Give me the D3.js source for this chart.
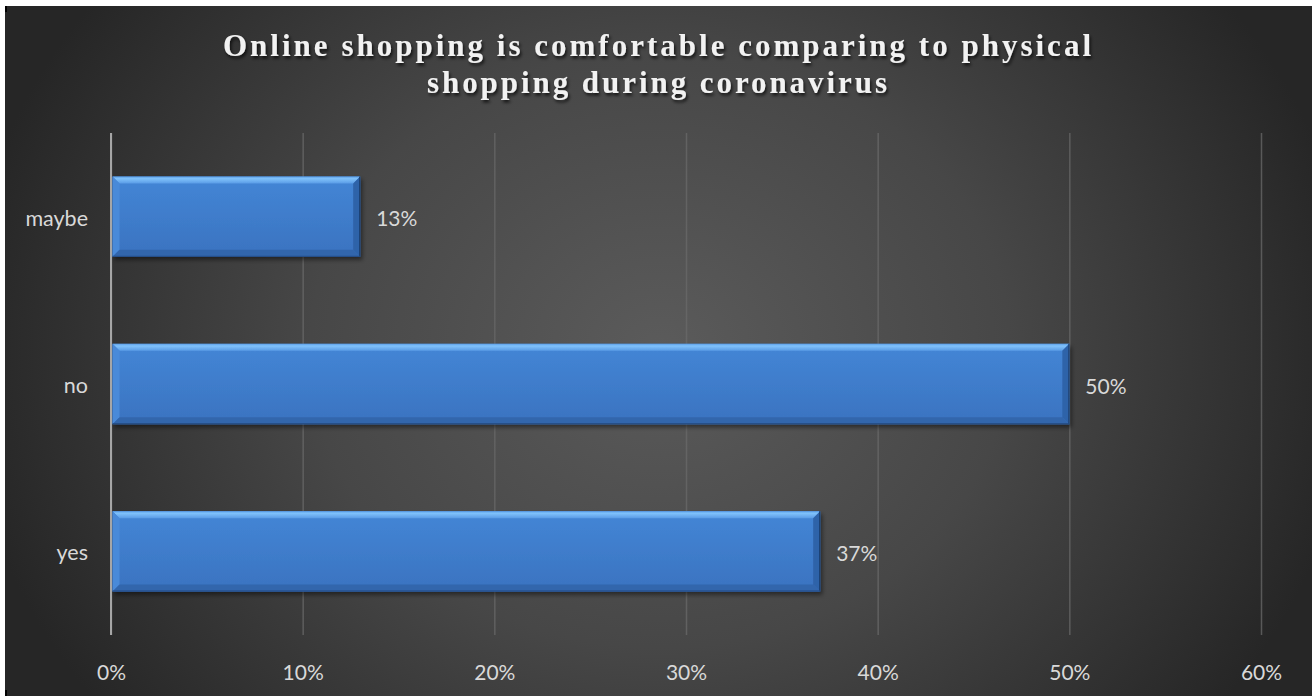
<!DOCTYPE html>
<html>
<head>
<meta charset="utf-8">
<script src="https://cdn.jsdelivr.net/npm/d3@7"></script>
<style>
  html, body { margin: 0; padding: 0; background: #ffffff; }
  svg { display: block; }
</style>
</head>
<body>
<svg id="chart" width="1312" height="696"></svg>
<script>
// Survey answers and their shares (percent)
const categories = ["maybe", "no", "yes"];
const values = [13, 50, 37];
const xTicks = [0, 10, 20, 30, 40, 50, 60];
const titleLines = [
  "Online shopping is comfortable comparing to physical",
  "shopping during coronavirus"
];

const W = 1312, H = 696;
const frame = { left: 5, top: 6 };
const plot = { left: 111, right: 1261, top: 133, bottom: 635 };

const svg = d3.select("#chart");
const defs = svg.append("defs");

// dark radial backdrop
const bg = defs.append("radialGradient").attr("id", "bgGrad")
  .attr("gradientUnits", "userSpaceOnUse")
  .attr("cx", 660).attr("cy", 350).attr("r", 700)
  .attr("gradientTransform", "translate(660,350) scale(1,0.85) translate(-660,-350)");
bg.append("stop").attr("offset", 0).attr("stop-color", "#5b5b5b");
bg.append("stop").attr("offset", 0.5).attr("stop-color", "#474747");
bg.append("stop").attr("offset", 1).attr("stop-color", "#262626");

// bar face gradients
const face = defs.append("linearGradient").attr("id", "faceGrad")
  .attr("x1", 0).attr("y1", 0).attr("x2", 0).attr("y2", 1);
face.append("stop").attr("offset", 0).attr("stop-color", "#4486d6");
face.append("stop").attr("offset", 1).attr("stop-color", "#3a73c0");

const topB = defs.append("linearGradient").attr("id", "topGrad")
  .attr("x1", 0).attr("y1", 0).attr("x2", 0).attr("y2", 1);
topB.append("stop").attr("offset", 0).attr("stop-color", "#5c9fe8");
topB.append("stop").attr("offset", 0.3).attr("stop-color", "#80c2fb");
topB.append("stop").attr("offset", 1).attr("stop-color", "#5a9ce6");

const shadow = defs.append("filter").attr("id", "barShadow")
  .attr("x", "-5%").attr("y", "-20%").attr("width", "115%").attr("height", "150%");
shadow.append("feDropShadow").attr("dx", 2).attr("dy", 3)
  .attr("stdDeviation", 2).attr("flood-color", "#000").attr("flood-opacity", 0.45);

const tshadow = defs.append("filter").attr("id", "titleShadow")
  .attr("x", "-5%").attr("y", "-30%").attr("width", "110%").attr("height", "170%");
tshadow.append("feDropShadow").attr("dx", 1.5).attr("dy", 2.5)
  .attr("stdDeviation", 1.8).attr("flood-color", "#000").attr("flood-opacity", 0.7);

// chart area
svg.append("rect").attr("x", frame.left).attr("y", frame.top)
  .attr("width", W - frame.left).attr("height", H - frame.top)
  .attr("fill", "url(#bgGrad)");
svg.append("rect").attr("x", frame.left).attr("y", frame.top).attr("width", 2).attr("height", 6).attr("fill", "#000");
svg.append("rect").attr("x", frame.left).attr("y", H - 6).attr("width", 2).attr("height", 6).attr("fill", "#000");

// scales
const x = d3.scaleLinear().domain([0, 60]).range([plot.left, plot.right]);
const y = d3.scaleBand().domain(categories)
  .range([plot.top, plot.bottom]).paddingInner(0.52).paddingOuter(0.26);

// vertical gridlines
const grid = svg.append("g")
  .attr("transform", `translate(0,${plot.bottom})`)
  .call(d3.axisBottom(x).tickValues(xTicks).tickSize(-(plot.bottom - plot.top)).tickFormat(""));
grid.select(".domain").remove();
grid.selectAll(".tick line").attr("stroke", "#6a6a6a").attr("stroke-opacity", 0.75).attr("stroke-width", 1.5);

// tick labels
const xAxis = svg.append("g")
  .attr("transform", `translate(0,${plot.bottom})`)
  .call(d3.axisBottom(x).tickValues(xTicks).tickSize(0).tickPadding(30).tickFormat(d => d + "%"));
xAxis.select(".domain").remove();
xAxis.selectAll("text")
  .attr("fill", "#d9d9d9").attr("font-family", "Lato, 'Open Sans', sans-serif")
  .attr("font-size", 21);

// bars with bevelled edges
const b = 7;
const bars = svg.append("g").selectAll("g.bar")
  .data(categories.map((c, i) => ({ c, v: values[i] })))
  .join("g").attr("class", "bar").attr("filter", "url(#barShadow)");

bars.each(function (d) {
  const g = d3.select(this);
  const x0 = x(0) + 1.5, x1 = x(d.v);
  const y0 = y(d.c), y1 = y(d.c) + y.bandwidth();
  const poly = pts => pts.map(p => p.join(",")).join(" ");
  g.append("rect").attr("x", x0).attr("y", y0).attr("width", x1 - x0).attr("height", y1 - y0)
    .attr("fill", "url(#faceGrad)");
  g.append("polygon").attr("points", poly([[x0, y0], [x1, y0], [x1 - b, y0 + b], [x0 + b, y0 + b]]))
    .attr("fill", "url(#topGrad)");
  g.append("polygon").attr("points", poly([[x0, y0], [x0 + b, y0 + b], [x0 + b, y1 - b], [x0, y1]]))
    .attr("fill", "#4a8ad9");
  g.append("polygon").attr("points", poly([[x1, y0], [x1, y1], [x1 - b, y1 - b], [x1 - b, y0 + b]]))
    .attr("fill", "#2f63a9");
  g.append("polygon").attr("points", poly([[x0, y1], [x0 + b, y1 - b], [x1 - b, y1 - b], [x1, y1]]))
    .attr("fill", "#3366ac");
  g.append("line").attr("x1", x1 - 0.5).attr("x2", x1 - 0.5).attr("y1", y0).attr("y2", y1)
    .attr("stroke", "#1b3d6b").attr("stroke-width", 1);
  g.append("line").attr("x1", x0).attr("x2", x1).attr("y1", y1 - 0.5).attr("y2", y1 - 0.5)
    .attr("stroke", "#234b82").attr("stroke-width", 1);
});

// value axis line
svg.append("line").attr("x1", x(0)).attr("x2", x(0))
  .attr("y1", plot.top).attr("y2", plot.bottom)
  .attr("stroke", "#a6a6a6").attr("stroke-width", 2);

// category labels
svg.append("g").selectAll("text").data(categories).join("text")
  .attr("x", x(0) - 23).attr("y", d => y(d) + y.bandwidth() / 2 + 1)
  .attr("text-anchor", "end").attr("dominant-baseline", "central")
  .attr("fill", "#d9d9d9").attr("font-family", "Lato, 'Open Sans', sans-serif")
  .attr("font-size", 21.5).text(d => d);

// value labels
svg.append("g").selectAll("text").data(categories.map((c, i) => ({ c, v: values[i] }))).join("text")
  .attr("x", d => x(d.v) + 16).attr("y", d => y(d.c) + y.bandwidth() / 2 + 1)
  .attr("dominant-baseline", "central")
  .attr("fill", "#d9d9d9").attr("font-family", "Lato, 'Open Sans', sans-serif")
  .attr("font-size", 21).text(d => d.v + "%");

// title
const titleBase = [56, 93];
const titleWidth = [870, 462];
const title = svg.append("g").attr("filter", "url(#titleShadow)");
titleLines.forEach((line, i) => {
  title.append("text")
    .attr("x", 658).attr("y", titleBase[i])
    .attr("text-anchor", "middle")
    .attr("font-family", "'Liberation Serif', 'Times New Roman', serif")
    .attr("font-weight", "bold").attr("font-size", 31)
    .attr("letter-spacing", 2)
    .attr("textLength", titleWidth[i]).attr("lengthAdjust", "spacing")
    .attr("fill", "#f2f2f2")
    .text(line);
});
</script>
</body>
</html>
